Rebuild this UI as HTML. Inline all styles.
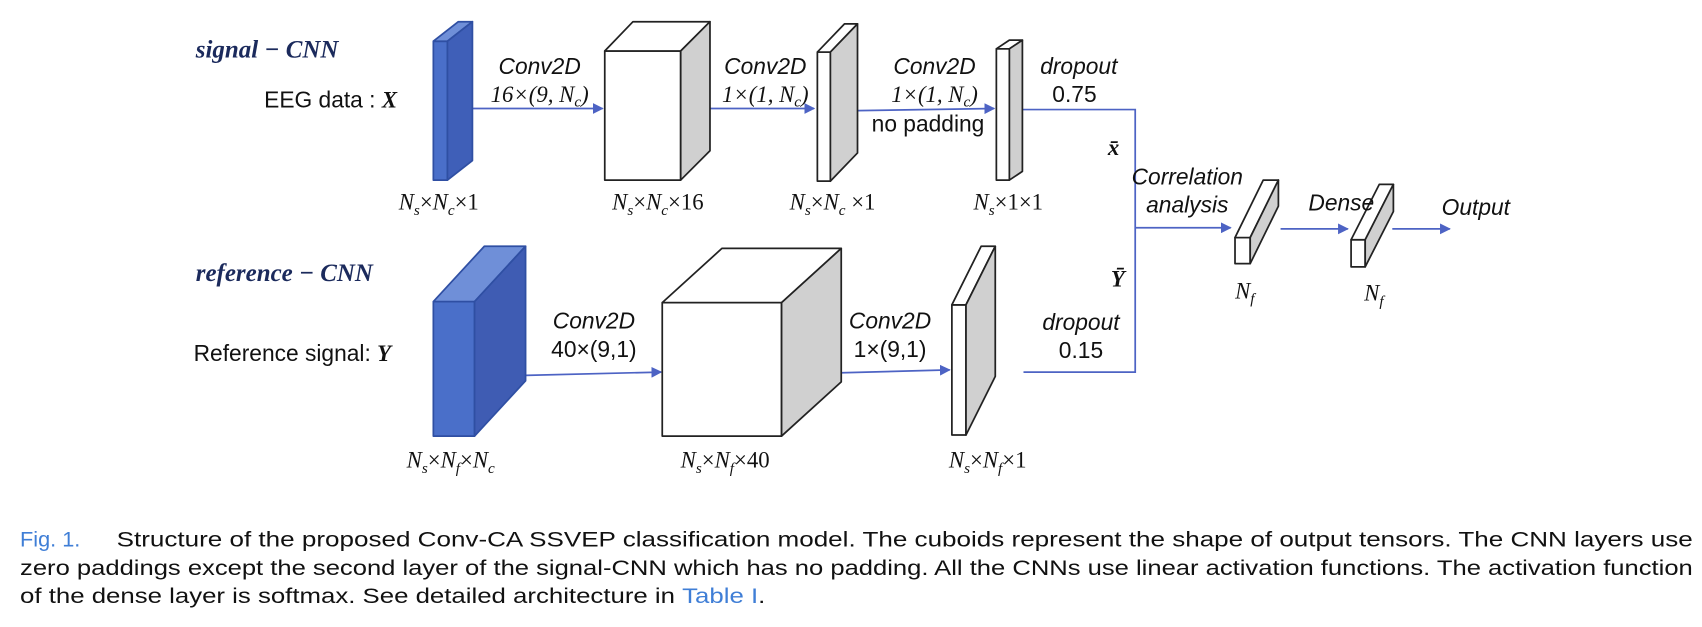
<!DOCTYPE html>
<html><head><meta charset="utf-8"><style>
html,body{margin:0;padding:0;background:#fff;}
svg{display:block}
.t{font-family:"Liberation Sans Narrow","Liberation Sans",sans-serif;font-size:21px;fill:#111;}
.i{font-family:"Liberation Sans Narrow","Liberation Sans",sans-serif;font-style:italic;font-size:21px;fill:#111;}
.m{font-family:"Liberation Serif",serif;font-style:italic;font-size:21px;fill:#111;}
.h{font-family:"Liberation Serif",serif;font-style:italic;font-weight:bold;font-size:23px;fill:#1b2a5c;}
.c{font-family:"Liberation Sans Narrow","Liberation Sans",sans-serif;font-size:20px;fill:#111;}
.b{fill:#3f7ed6;}
</style></head><body>
<svg width="1702" height="627" viewBox="0 0 1568 578" xmlns="http://www.w3.org/2000/svg">
<defs><marker id="a" markerWidth="10" markerHeight="10" refX="9" refY="5" orient="auto" markerUnits="userSpaceOnUse"><path d="M0,0 L10,5 L0,10 z" fill="#4d63c4"/></marker></defs>
<g stroke="#4d63c4" stroke-width="1.6" fill="none">
<line x1="412" y1="100" x2="555" y2="100" marker-end="url(#a)"/>
<line x1="627" y1="100" x2="750" y2="100" marker-end="url(#a)"/>
<line x1="790" y1="102" x2="916" y2="100" marker-end="url(#a)"/>
<polyline points="942,101 1046,101 1046,343 943,343"/>
<line x1="1046" y1="210" x2="1134" y2="210" marker-end="url(#a)"/>
<line x1="1180" y1="211" x2="1242" y2="211" marker-end="url(#a)"/>
<line x1="1283" y1="211" x2="1336" y2="211" marker-end="url(#a)"/>
<line x1="484" y1="346" x2="609" y2="343" marker-end="url(#a)"/>
<line x1="763" y1="344" x2="875" y2="341" marker-end="url(#a)"/>
</g>
<g stroke="#222" stroke-width="1.6" stroke-linejoin="round">
<polygon points="399,38 412,38 412,166 399,166" fill="#4a6fc9" stroke="#2f4fa3"/>
<polygon points="399,38 422,20 435,20 412,38" fill="#6f8fd8" stroke="#2f4fa3"/>
<polygon points="412,38 435,20 435,148 412,166" fill="#3f5fb8" stroke="#2f4fa3"/>
<polygon points="557,47 627,47 627,166 557,166" fill="#fff"/>
<polygon points="557,47 583,20 654,20 627,47" fill="#fff"/>
<polygon points="627,47 654,20 654,139 627,166" fill="#d0d0d0"/>
<polygon points="753,48 765,48 765,167 753,167" fill="#fff"/>
<polygon points="753,48 778,22 790,22 765,48" fill="#fff"/>
<polygon points="765,48 790,22 790,141 765,167" fill="#d0d0d0"/>
<polygon points="918,45 930,45 930,166 918,166" fill="#fff"/>
<polygon points="918,45 930,37 942,37 930,45" fill="#fff"/>
<polygon points="930,45 942,37 942,158 930,166" fill="#d0d0d0"/>
<polygon points="1138,219 1152,219 1152,243 1138,243" fill="#fff"/>
<polygon points="1138,219 1164,166 1178,166 1152,219" fill="#fff"/>
<polygon points="1152,219 1178,166 1178,190 1152,243" fill="#d0d0d0"/>
<polygon points="1245,221 1258,221 1258,246 1245,246" fill="#fff"/>
<polygon points="1245,221 1271,170 1284,170 1258,221" fill="#fff"/>
<polygon points="1258,221 1284,170 1284,195 1258,246" fill="#d0d0d0"/>
<polygon points="399,278 437,278 437,402 399,402" fill="#4a6fc9" stroke="#2f4fa3"/>
<polygon points="399,278 446,227 484,227 437,278" fill="#6f8fd8" stroke="#2f4fa3"/>
<polygon points="437,278 484,227 484,351 437,402" fill="#3f5cb3" stroke="#2f4fa3"/>
<polygon points="610,279 720,279 720,402 610,402" fill="#fff"/>
<polygon points="610,279 665,229 775,229 720,279" fill="#fff"/>
<polygon points="720,279 775,229 775,352 720,402" fill="#d0d0d0"/>
<polygon points="877,281 890,281 890,401 877,401" fill="#fff"/>
<polygon points="877,281 904,227 917,227 890,281" fill="#fff"/>
<polygon points="890,281 917,227 917,347 890,401" fill="#d0d0d0"/>
</g>
<text class="h" x="180" y="53">signal − CNN</text>
<text class="t" x="243" y="99">EEG data : <tspan class="m" font-weight="bold">X</tspan></text>
<text class="h" x="180" y="259">reference − CNN</text>
<text class="t" x="178" y="333">Reference signal: <tspan class="m" font-weight="bold">Y</tspan></text>
<g text-anchor="middle">
<text class="i" x="497" y="68">Conv2D</text><text class="m" x="497" y="94" font-style="normal">16×(9, <tspan font-style="italic">N<tspan font-size="14" dy="4">c</tspan></tspan><tspan dy="-4">)</tspan></text>
<text class="i" x="705" y="68">Conv2D</text><text class="m" x="705" y="94" font-style="normal">1×(1, <tspan font-style="italic">N<tspan font-size="14" dy="4">c</tspan></tspan><tspan dy="-4">)</tspan></text>
<text class="i" x="861" y="68">Conv2D</text><text class="m" x="861" y="94" font-style="normal">1×(1, <tspan font-style="italic">N<tspan font-size="14" dy="4">c</tspan></tspan><tspan dy="-4">)</tspan></text>
<text class="t" x="855" y="121">no padding</text>
<text class="i" x="994" y="68">dropout</text><text class="t" x="990" y="94">0.75</text>
<text class="i" x="547" y="303">Conv2D</text><text class="t" x="547" y="329">40×(9,1)</text>
<text class="i" x="820" y="303">Conv2D</text><text class="t" x="820" y="329">1×(9,1)</text>
<text class="i" x="996" y="304">dropout</text><text class="t" x="996" y="330">0.15</text>
<text class="i" x="1094" y="170">Correlation</text><text class="i" x="1094" y="196">analysis</text>
<text class="i" x="1236" y="194">Dense</text>
<text class="i" x="1360" y="198">Output</text>
<text class="m" x="1026" y="143" font-weight="bold">x̄</text>
<text class="m" x="1030" y="264" font-weight="bold">Ȳ</text>
<text class="m" x="404" y="193">N<tspan font-size="14" dy="5">s</tspan><tspan dy="-5" font-style="normal">×</tspan>N<tspan font-size="14" dy="5">c</tspan><tspan dy="-5" font-style="normal">×1</tspan></text>
<text class="m" x="606" y="193">N<tspan font-size="14" dy="5">s</tspan><tspan dy="-5" font-style="normal">×</tspan>N<tspan font-size="14" dy="5">c</tspan><tspan dy="-5" font-style="normal">×16</tspan></text>
<text class="m" x="767" y="193">N<tspan font-size="14" dy="5">s</tspan><tspan dy="-5" font-style="normal">×</tspan>N<tspan font-size="14" dy="5">c</tspan><tspan dy="-5" font-style="normal"> ×1</tspan></text>
<text class="m" x="929" y="193">N<tspan font-size="14" dy="5">s</tspan><tspan dy="-5" font-style="normal">×1×1</tspan></text>
<text class="m" x="1147" y="275">N<tspan font-size="14" dy="5">f</tspan></text>
<text class="m" x="1266" y="277">N<tspan font-size="14" dy="5">f</tspan></text>
<text class="m" x="415" y="431">N<tspan font-size="14" dy="5">s</tspan><tspan dy="-5" font-style="normal">×</tspan>N<tspan font-size="14" dy="5">f</tspan><tspan dy="-5" font-style="normal">×</tspan>N<tspan font-size="14" dy="5">c</tspan></text>
<text class="m" x="668" y="431">N<tspan font-size="14" dy="5">s</tspan><tspan dy="-5" font-style="normal">×</tspan>N<tspan font-size="14" dy="5">f</tspan><tspan dy="-5" font-style="normal">×40</tspan></text>
<text class="m" x="910" y="431">N<tspan font-size="14" dy="5">s</tspan><tspan dy="-5" font-style="normal">×</tspan>N<tspan font-size="14" dy="5">f</tspan><tspan dy="-5" font-style="normal">×1</tspan></text>
</g>
<text class="c b" x="18" y="504">Fig. 1.</text>
<text class="c" x="107" y="504" textLength="1453" lengthAdjust="spacingAndGlyphs">Structure of the proposed Conv-CA SSVEP classification model. The cuboids represent the shape of output tensors. The CNN layers use</text>
<text class="c" x="18" y="530" textLength="1542" lengthAdjust="spacingAndGlyphs">zero paddings except the second layer of the signal-CNN which has no padding. All the CNNs use linear activation functions. The activation function</text>
<text class="c" x="18" y="556" textLength="687" lengthAdjust="spacingAndGlyphs">of the dense layer is softmax. See detailed architecture in <tspan class="b">Table I</tspan>.</text>
</svg>
</body></html>
